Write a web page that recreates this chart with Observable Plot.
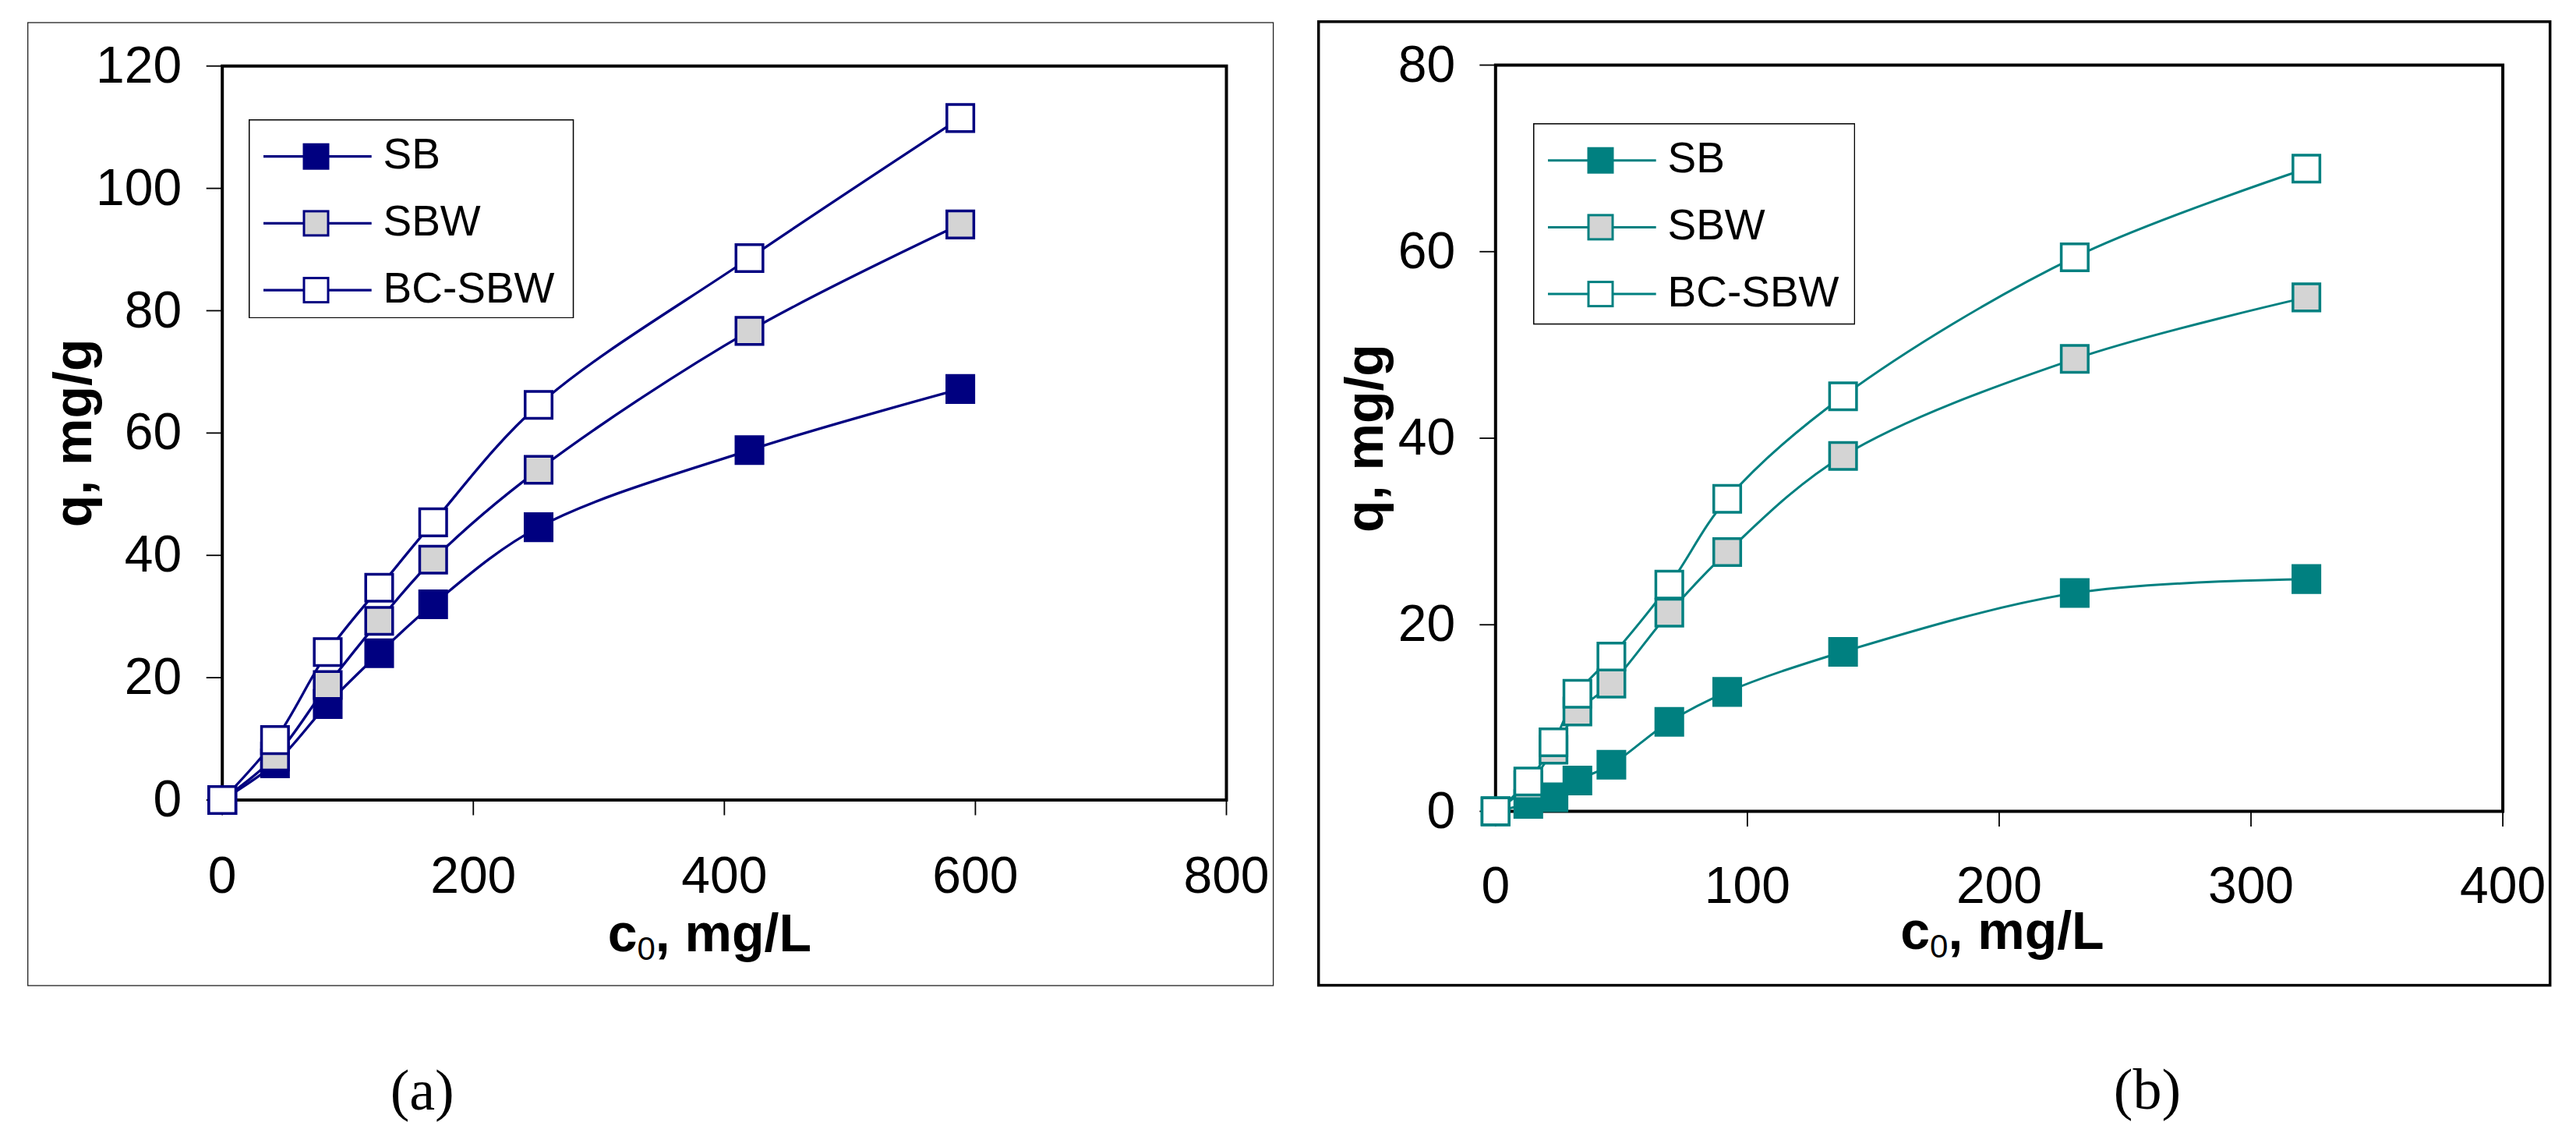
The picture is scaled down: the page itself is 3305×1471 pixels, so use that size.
<!DOCTYPE html>
<html>
<head>
<meta charset="utf-8">
<script src="https://cdn.jsdelivr.net/npm/d3@7"></script>
<script src="https://cdn.jsdelivr.net/npm/@observablehq/plot@0.6"></script>
<style>
  html, body { margin: 0; padding: 0; background: #fff; }
  #fig { position: relative; width: 3305px; height: 1471px; background: #fff; overflow: hidden; }
  #fig > svg { position: absolute; }
</style>
</head>
<body>
<div id="fig"></div>
<script>
// ---------- data ----------
const seriesNames = ["SB", "SBW", "BC-SBW"];

// panel (a)
const c0A   = [0, 42, 84, 125, 168, 252, 420, 588];
const qSBA  = [0, 6.0, 15.7, 24.0, 32.0, 44.6, 57.2, 67.2];
const qSBWA = [0, 7.1, 18.8, 29.3, 39.3, 54.0, 76.7, 94.1];
const qBCA  = [0, 9.8, 24.2, 34.7, 45.4, 64.6, 88.6, 111.5];
const xTicksA = [0, 200, 400, 600, 800];
const yTicksA = [0, 20, 40, 60, 80, 100, 120];

// panel (b)
const c0B   = [0, 13, 23, 32.5, 46, 69, 92, 138, 230, 322];
const qSBB  = [0, 0.8, 1.5, 3.3, 5.0, 9.6, 12.8, 17.1, 23.4, 24.9];
const qSBWB = [0, 2.8, 6.6, 10.7, 13.7, 21.3, 27.8, 38.1, 48.5, 55.1];
const qBCB  = [0, 3.2, 7.4, 12.6, 16.6, 24.3, 33.5, 44.5, 59.4, 68.9];
const xTicksB = [0, 100, 200, 300, 400];
const yTicksB = [0, 20, 40, 60, 80];

const yLabel = "q, mg/g";
const xLabel = "c\u2080, mg/L";
const panelLabels = ["(a)", "(b)"];

// ---------- helpers ----------
function toRows(c0, series) {
  const rows = [];
  series.forEach((qs, i) => qs.forEach((q, j) => rows.push({series: seriesNames[i], c0: c0[j], q})));
  return rows;
}

const GREY = "#d4d4d4";
const SANS = "'Liberation Sans', Arial, Helvetica, sans-serif";
const fig = d3.select("#fig");

// background: outer frames + panel captions
const bg = fig.append("svg").attr("width", 3305).attr("height", 1471).style("left", "0px").style("top", "0px");
bg.append("rect").attr("x", 35.7).attr("y", 29).attr("width", 1597.9).attr("height", 1235)
  .attr("fill", "none").attr("stroke", "#222").attr("stroke-width", 1.3);
bg.append("rect").attr("x", 1691.7).attr("y", 27.8).attr("width", 1580).attr("height", 1235.8)
  .attr("fill", "none").attr("stroke", "black").attr("stroke-width", 3.5);
[[541.7, 1423], [2755, 1422]].forEach(([x, y], i) => {
  bg.append("text").attr("x", x).attr("y", y).attr("text-anchor", "middle")
    .attr("font-family", "'Liberation Serif', 'Times New Roman', serif").attr("font-size", 74)
    .text(panelLabels[i]);
});

function panel(o) {
  const fills = [o.color, GREY, "#ffffff"];
  const data = toRows(o.c0, o.series);
  const svg = Plot.plot({
    width: o.width, height: o.height,
    marginLeft: o.ml, marginRight: o.mr, marginTop: o.mt, marginBottom: o.mb,
    style: {background: "transparent", overflow: "visible", fontFamily: SANS, color: "black", maxWidth: "none"},
    x: {domain: o.xDomain},
    y: {domain: o.yDomain},
    color: {domain: seriesNames, range: fills},
    marks: [
      Plot.frame({stroke: "black", strokeWidth: 4}),
      Plot.axisX({ticks: o.xTicks, tickSize: 20, tickPadding: o.xPad, fontSize: 66, strokeWidth: 1.8,
                  tickFormat: d => String(d), label: null}),
      Plot.axisY({ticks: o.yTicks, tickSize: 20, tickPadding: o.yPad, fontSize: 66, strokeWidth: 1.8,
                  tickFormat: d => String(d), label: null}),
      Plot.line(data, {x: "c0", y: "q", z: "series", stroke: o.color, strokeWidth: o.lw, curve: "catmull-rom"}),
      Plot.dot(data, {x: "c0", y: "q", symbol: "square", r: 19.5, fill: "series", stroke: o.color, strokeWidth: 3.5}),
      Plot.text([yLabel], {frameAnchor: "left", rotate: -90, dx: o.ylDx, lineAnchor: "bottom", textAnchor: "middle",
                           fontSize: 68, fontWeight: "bold", fill: "black"}),
      Plot.text([xLabel], {frameAnchor: "bottom", dx: o.xlDx, dy: o.xlDy, lineAnchor: "bottom", textAnchor: "middle",
                           fontSize: 68, fontWeight: "bold", fill: "black"})
    ]
  });
  svg.style.left = o.left + "px";
  svg.style.top = "0px";
  // subscript for c0
  svg.querySelectorAll("text").forEach(t => {
    if (t.textContent === xLabel) {
      t.textContent = "";
      const ns = "http://www.w3.org/2000/svg";
      const a = document.createElementNS(ns, "tspan"); a.textContent = "c";
      const b = document.createElementNS(ns, "tspan"); b.textContent = "0";
      b.setAttribute("dy", "11"); b.setAttribute("font-size", "42"); b.setAttribute("font-weight", "normal");
      const c = document.createElementNS(ns, "tspan"); c.textContent = ", mg/L"; c.setAttribute("dy", "-11");
      t.append(a, b, c);
    }
  });
  document.getElementById("fig").appendChild(svg);

  // legend
  const L = o.legend;
  const lg = fig.append("svg").attr("width", L.w).attr("height", L.h)
    .style("left", L.x + "px").style("top", L.y + "px");
  lg.append("rect").attr("x", 0.75).attr("y", 0.75).attr("width", L.w - 1.5).attr("height", L.h - 1.5)
    .attr("fill", "white").attr("stroke", "black").attr("stroke-width", 1.5);
  seriesNames.forEach((name, i) => {
    const y = 47.7 + i * 85.7;
    lg.append("line").attr("x1", 19).attr("x2", 157.7).attr("y1", y).attr("y2", y)
      .attr("stroke", o.color).attr("stroke-width", o.lw);
    lg.append("rect").attr("x", 86.5 - 15.5).attr("y", y - 15.5).attr("width", 31).attr("height", 31)
      .attr("fill", fills[i]).attr("stroke", o.color).attr("stroke-width", 3);
    lg.append("text").attr("x", 172.5).attr("y", y + 15.5).attr("font-family", SANS).attr("font-size", 55)
      .attr("fill", "black").text(name);
  });
}

panel({
  left: 0, width: 1660, height: 1300, ml: 284.7, mr: 87, mt: 84.2, mb: 274.5,
  xDomain: [0, 800], yDomain: [0, 120], xTicks: xTicksA, yTicks: yTicksA,
  xPad: 52.5, yPad: 32, c0: c0A, series: [qSBA, qSBWA, qBCA],
  color: "#000080", lw: 3.3, ylDx: -168.7, xlDx: -19, xlDy: 193.5,
  legend: {x: 319.4, y: 152.6, w: 417.3, h: 255.4}
});

panel({
  left: 1680, width: 1625, height: 1300, ml: 238.3, mr: 94.4, mt: 83, mb: 260,
  xDomain: [0, 400], yDomain: [0, 80], xTicks: xTicksB, yTicks: yTicksB,
  xPad: 50.7, yPad: 31.6, c0: c0B, series: [qSBB, qSBWB, qBCB],
  color: "#008080", lw: 3.0, ylDx: -145.3, xlDx: 4, xlDy: 176.7,
  legend: {x: 1966.6, y: 158.4, w: 413.2, h: 258.3}
});
</script>
</body>
</html>
